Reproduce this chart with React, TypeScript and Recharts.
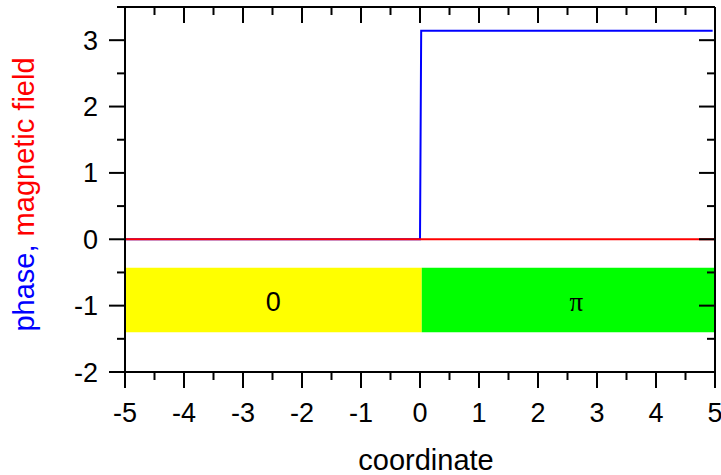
import React from 'react';
import { ComposedChart, Line, XAxis, YAxis, ReferenceArea, Label } from 'recharts';

// ---- data ----
const xTicks = [-5, -4.5, -4, -3.5, -3, -2.5, -2, -1.5, -1, -0.5, 0, 0.5, 1, 1.5, 2, 2.5, 3, 3.5, 4, 4.5, 5];
const yTicks = [-2, -1.5, -1, -0.5, 0, 0.5, 1, 1.5, 2, 2.5, 3, 3.5];
const phaseX = [-5, 0, 0.02, 4.96];
const phaseY = [0, 0, 3.1416, 3.1416];
const fieldX = [-5, 5];
const fieldY = [0, 0];
const regionEdges = [-5, 0.03, 5];
const regionBottom = -1.4;
const regionTop = -0.43;
const regionLabels = ['0', 'π'];

const phaseData = phaseX.map((x, i) => ({ x, y: phaseY[i] }));
const fieldData = fieldX.map((x, i) => ({ x, y: fieldY[i] }));

const SANS = "'Liberation Sans', Arial, Helvetica, sans-serif";
const SERIF = "'Liberation Serif', 'Times New Roman', serif";
const FS = 27;
const TFS = 29;
const isMajor = (v: number) => Math.abs(v - Math.round(v)) < 1e-6;

const BottomTick = (props: any) => {
  const { x, y, payload } = props;
  const v = payload.value;
  const m = isMajor(v);
  return (
    <g>
      <line x1={x} y1={y} x2={x} y2={y + (m ? 16 : 8)} stroke="#000" strokeWidth={2} />
      {m && (
        <text x={x} y={y + 50} textAnchor="middle" fontSize={FS} fontFamily={SANS} fill="#000">
          {String(v)}
        </text>
      )}
    </g>
  );
};

const TopTick = (props: any) => {
  const { x, y, payload } = props;
  const m = isMajor(payload.value);
  return <line x1={x} y1={y} x2={x} y2={y + (m ? 16 : 8)} stroke="#000" strokeWidth={2} />;
};

const LeftTick = (props: any) => {
  const { x, y, payload } = props;
  const v = payload.value;
  const m = isMajor(v);
  return (
    <g>
      <line x1={x - (m ? 16 : 8)} y1={y} x2={x} y2={y} stroke="#000" strokeWidth={2} />
      {m && (
        <text x={x - 27} y={y + 9.5} textAnchor="end" fontSize={FS} fontFamily={SANS} fill="#000">
          {String(v)}
        </text>
      )}
    </g>
  );
};

const RightTick = (props: any) => {
  const { x, y, payload } = props;
  const m = isMajor(payload.value);
  return <line x1={x - (m ? 16 : 8)} y1={y} x2={x} y2={y} stroke="#000" strokeWidth={2} />;
};

const makeRegionLabel = (text: string, serif: boolean, dx: number) => (props: any) => {
  const vb = props.viewBox;
  return (
    <text
      x={vb.x + vb.width / 2 + dx}
      y={vb.y + vb.height / 2 + 11}
      textAnchor="middle"
      fontSize={FS}
      fontFamily={serif ? SERIF : SANS}
      fill="#000"
    >
      {text}
    </text>
  );
};

const YTitle = (props: any) => {
  const vb = props.viewBox;
  const cx = vb.x + 34;
  const cy = vb.y + vb.height / 2 + 5;
  return (
    <text
      x={cx}
      y={cy}
      transform={`rotate(-90, ${cx}, ${cy})`}
      textAnchor="middle"
      fontSize={TFS}
      fontFamily={SANS}
    >
      <tspan fill="#0000ff">phase</tspan>
      <tspan fill="#0000ff">, </tspan>
      <tspan fill="#ff0000">magnetic field</tspan>
    </text>
  );
};

const XTitle = (props: any) => {
  const vb = props.viewBox;
  return (
    <text
      x={vb.x + vb.width / 2 + 6}
      y={vb.y + 98}
      textAnchor="middle"
      fontSize={TFS}
      fontFamily={SANS}
      fill="#000"
    >
      coordinate
    </text>
  );
};

export default function App() {
  return (
    <div style={{ position: 'absolute', left: 0, top: 0, background: '#fff' }}>
      <ComposedChart width={721} height={475} margin={{ top: 6, right: 5, left: 0, bottom: 0 }}>
        <XAxis
          xAxisId="b"
          dataKey="x"
          type="number"
          domain={[-5, 5]}
          ticks={xTicks}
          interval={0}
          height={103}
          tickSize={0}
          tickMargin={0}
          tickLine={false}
          axisLine={{ stroke: '#000', strokeWidth: 2 }}
          tick={<BottomTick />}
          allowDataOverflow
        >
          <Label content={<XTitle />} />
        </XAxis>
        <XAxis
          xAxisId="t"
          orientation="top"
          dataKey="x"
          type="number"
          domain={[-5, 5]}
          ticks={xTicks}
          interval={0}
          height={1}
          tickSize={0}
          tickMargin={0}
          tickLine={false}
          axisLine={{ stroke: '#000', strokeWidth: 2 }}
          tick={<TopTick />}
          allowDataOverflow
        />
        <YAxis
          yAxisId="l"
          type="number"
          domain={[-2, 3.5]}
          ticks={yTicks}
          interval={0}
          width={125}
          tickSize={0}
          tickMargin={0}
          tickLine={false}
          axisLine={{ stroke: '#000', strokeWidth: 2 }}
          tick={<LeftTick />}
          allowDataOverflow
        >
          <Label content={<YTitle />} />
        </YAxis>
        <YAxis
          yAxisId="r"
          orientation="right"
          type="number"
          domain={[-2, 3.5]}
          ticks={yTicks}
          interval={0}
          width={1}
          tickSize={0}
          tickMargin={0}
          tickLine={false}
          axisLine={{ stroke: '#000', strokeWidth: 2 }}
          tick={<RightTick />}
          allowDataOverflow
        />
        <ReferenceArea
          xAxisId="b"
          yAxisId="l"
          x1={regionEdges[0]}
          x2={regionEdges[1]}
          y1={regionBottom}
          y2={regionTop}
          fill="#ffff00"
          fillOpacity={1}
          stroke="none"
          label={makeRegionLabel(regionLabels[0], false, 0)}
        />
        <ReferenceArea
          xAxisId="b"
          yAxisId="l"
          x1={regionEdges[1]}
          x2={regionEdges[2]}
          y1={regionBottom}
          y2={regionTop}
          fill="#00ff00"
          fillOpacity={1}
          stroke="none"
          label={makeRegionLabel(regionLabels[1], true, 8)}
        />
        <Line
          xAxisId="b"
          yAxisId="l"
          data={phaseData}
          dataKey="y"
          type="linear"
          stroke="#0000ff"
          strokeWidth={2}
          dot={false}
          activeDot={false}
          isAnimationActive={false}
        />
        <Line
          xAxisId="b"
          yAxisId="l"
          data={fieldData}
          dataKey="y"
          type="linear"
          stroke="#ff0000"
          strokeWidth={2}
          dot={false}
          activeDot={false}
          isAnimationActive={false}
        />
      </ComposedChart>
    </div>
  );
}
